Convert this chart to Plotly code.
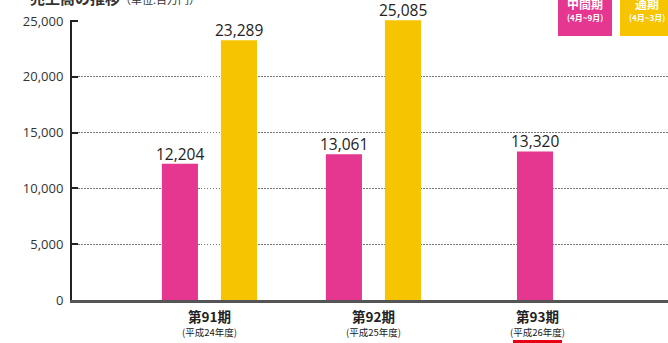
import plotly.graph_objects as go

# Sales by fiscal period (millions of yen)
periods = ["第91期", "第92期", "第93期"]
fiscal_years = ["(平成24年度)", "(平成25年度)", "(平成26年度)"]
interim_sales = [12204, 13061, 13320]      # 中間期 (4月~9月)
full_year_sales = [23289, 25085, None]     # 通期 (4月~3月)
y_ticks = [0, 5000, 10000, 15000, 20000, 25000]
grid_values = [5000, 10000, 15000, 20000]

PINK = "#e5378f"
YELLOW = "#f6c400"
FONT = "Open Sans, Noto Sans CJK JP, sans-serif"
JP_FONT = "Noto Sans CJK JP, sans-serif"

BAR_W = 0.22
pink_offset = [-0.29, -0.29, -0.125]
yellow_offset = [0.07, 0.07, 0.07]
Y_TOP = 25100

tick_text = [
    f"<span style='font-size:13.5px'><b>{p}</b></span><br>"
    f"<span style='font-size:9.5px'>{fy}</span>"
    for p, fy in zip(periods, fiscal_years)
]

label_font = dict(family=FONT, size=15.5, color="#222")

fig = go.Figure()
fig.add_trace(go.Bar(
    x=periods, y=interim_sales, width=BAR_W, offset=pink_offset,
    marker=dict(color=PINK, line=dict(width=0)),
    name="中間期", showlegend=False,
))
fig.add_trace(go.Bar(
    x=periods, y=full_year_sales, width=BAR_W, offset=yellow_offset,
    marker=dict(color=YELLOW, line=dict(width=0)),
    name="通期", showlegend=False,
))

# value labels centred just above each bar
for values, offsets in ((interim_sales, pink_offset), (full_year_sales, yellow_offset)):
    for i, v in enumerate(values):
        if v is None:
            continue
        fig.add_annotation(
            x=i + offsets[i] + BAR_W / 2, y=v, xref="x", yref="y",
            text=f"{v:,}", showarrow=False, yanchor="middle", yshift=10,
            borderpad=0, font=label_font,
        )

fig.update_layout(
    width=668, height=343,
    margin=dict(l=72, r=0, t=20, b=43),
    paper_bgcolor="white", plot_bgcolor="white",
    barmode="overlay",
    xaxis=dict(
        type="category", range=[-0.838, 2.796],
        tickvals=periods, ticktext=tick_text,
        tickfont=dict(family=JP_FONT, size=11, color="#222"),
        ticklabelstandoff=6,
        showline=True, linecolor="#555", linewidth=2.5,
        ticks="", showgrid=False, zeroline=False,
    ),
    yaxis=dict(
        range=[0, Y_TOP], tickvals=y_ticks, tickformat=",",
        tickfont=dict(family=FONT, size=13, color="#333"),
        showline=True, linecolor="#222", linewidth=2,
        ticks="inside", ticklen=6, tickwidth=2, tickcolor="#222",
        ticklabelstandoff=4,
        showgrid=False, zeroline=False,
    ),
    # overlay axis used only for the dotted gridlines
    yaxis2=dict(
        overlaying="y", matches="y", range=[0, Y_TOP],
        tickvals=grid_values, showticklabels=False,
        showgrid=True, gridcolor="#777", griddash="1.5px,1.5px", gridwidth=1.3,
        zeroline=False, showline=False, ticks="",
    ),
)

# invisible trace so the gridline axis is rendered
fig.add_trace(go.Scatter(x=[periods[0]], y=[0], yaxis="y2", mode="markers",
                         marker=dict(opacity=0), hoverinfo="skip", showlegend=False))


def px_x(px):
    return (px - 72) / 596


def px_y(py):
    return (300 - py) / 280


# title
fig.add_annotation(
    xref="paper", yref="paper", x=px_x(28), y=px_y(10), xanchor="left", yanchor="bottom",
    text="<b>売上高の推移</b><span style='font-size:11px'>（単位:百万円）</span>",
    showarrow=False, font=dict(family=JP_FONT, size=15, color="#333"),
)

# legend boxes
fig.add_shape(type="rect", xref="paper", yref="paper",
              x0=px_x(558), x1=px_x(612), y0=px_y(36), y1=px_y(-10),
              fillcolor=PINK, line=dict(width=0))
fig.add_shape(type="rect", xref="paper", yref="paper",
              x0=px_x(620), x1=px_x(676), y0=px_y(36), y1=px_y(-10),
              fillcolor=YELLOW, line=dict(width=0))
legend_texts = [
    (585, 4, "<b>中間期</b>", 12),
    (585, 17, "<b>(4月~9月)</b>", 8),
    (647, 4, "<b>通期</b>", 12),
    (647, 17, "<b>(4月~3月)</b>", 8),
]
for lx, ly, txt, size in legend_texts:
    fig.add_annotation(xref="paper", yref="paper", x=px_x(lx), y=px_y(ly),
                       xanchor="center", yanchor="middle",
                       text=txt, showarrow=False,
                       font=dict(family=JP_FONT, size=size, color="white"))

# red badge under the forecast period
fig.add_shape(type="rect", xref="paper", yref="paper",
              x0=px_x(513), x1=px_x(562), y0=px_y(352), y1=px_y(340),
              fillcolor="#e60012", line=dict(width=0))

fig.write_html("out.html")
